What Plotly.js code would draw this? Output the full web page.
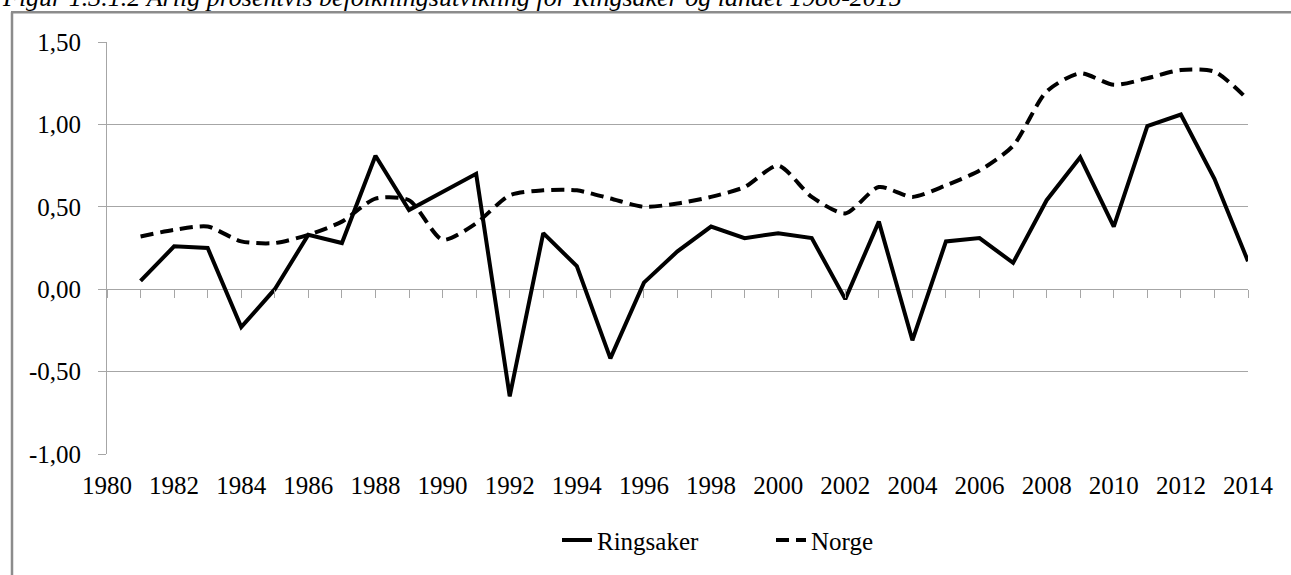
<!DOCTYPE html>
<html>
<head>
<meta charset="utf-8">
<script src="https://cdn.plot.ly/plotly-3.0.1.min.js"></script>
<style>
  html, body { margin: 0; padding: 0; background: #ffffff; }
  #chart { width: 1291px; height: 575px; }
</style>
</head>
<body>
<div id="chart"></div>
<script>
// ---- data ----
const years = [1981, 1982, 1983, 1984, 1985, 1986, 1987, 1988, 1989, 1990,
               1991, 1992, 1993, 1994, 1995, 1996, 1997, 1998, 1999, 2000,
               2001, 2002, 2003, 2004, 2005, 2006, 2007, 2008, 2009, 2010,
               2011, 2012, 2013, 2014];
const ringsaker = [0.05, 0.26, 0.25, -0.23, 0.00, 0.33, 0.28, 0.81, 0.48, 0.59,
                   0.70, -0.65, 0.34, 0.14, -0.42, 0.04, 0.23, 0.38, 0.31, 0.34,
                   0.31, -0.06, 0.41, -0.31, 0.29, 0.31, 0.16, 0.54, 0.80, 0.38,
                   0.99, 1.06, 0.67, 0.17];
const norge = [0.32, 0.36, 0.38, 0.29, 0.28, 0.33, 0.41, 0.55, 0.54, 0.30,
               0.40, 0.57, 0.60, 0.60, 0.55, 0.50, 0.52, 0.56, 0.62, 0.75,
               0.56, 0.46, 0.62, 0.56, 0.63, 0.72, 0.87, 1.20, 1.31, 1.24,
               1.28, 1.33, 1.32, 1.15];
const seriesNames = ['Ringsaker', 'Norge'];
const titleText = 'Figur 1.3.1.2 Årlig prosentvis befolkningsutvikling for Ringsaker og landet 1980-2015';

const xLabelVals = [1980, 1982, 1984, 1986, 1988, 1990, 1992, 1994, 1996, 1998,
                    2000, 2002, 2004, 2006, 2008, 2010, 2012, 2014];
const xLabelText = xLabelVals.map(String);
const xTickYears = [1980, 1981, 1982, 1983, 1984, 1985, 1986, 1987, 1988, 1989,
                    1990, 1991, 1992, 1993, 1994, 1995, 1996, 1997, 1998, 1999,
                    2000, 2001, 2002, 2003, 2004, 2005, 2006, 2007, 2008, 2009,
                    2010, 2011, 2012, 2013, 2014];
const yTickVals = [-1, -0.5, 0, 0.5, 1, 1.5];
const yTickText = ['-1,00', '-0,50', '0,00', '0,50', '1,00', '1,50'];

// ---- layout geometry ----
const W = 1291, H = 575;
const mL = 107, mR = 43, mT = 42, mB = 117;
const plotW = W - mL - mR, plotH = H - mT - mB;
const px2x = p => (p - mL) / plotW;
const py2y = p => (H - mB - p) / plotH;
const yMin = -1, yMax = 1.5;
const zeroPos = (0 - yMin) / (yMax - yMin);

const FONT = 'Liberation Serif';
const GRID = '#a6a6a6';

const traces = [
  {
    x: years, y: ringsaker, name: seriesNames[0], type: 'scatter', mode: 'lines',
    line: {color: '#000000', width: 4},
    xaxis: 'x', yaxis: 'y'
  },
  {
    x: years, y: norge, name: seriesNames[1], type: 'scatter', mode: 'lines',
    line: {color: '#000000', width: 4, dash: '13px,7px', shape: 'spline', smoothing: 0.7},
    xaxis: 'x', yaxis: 'y'
  }
];

const layout = {
  width: W, height: H,
  margin: {l: mL, r: mR, t: mT, b: mB, pad: 0},
  paper_bgcolor: '#ffffff', plot_bgcolor: '#ffffff',
  font: {family: FONT, size: 25, color: '#000000'},
  showlegend: true,
  legend: {
    orientation: 'h',
    x: px2x(557), xanchor: 'left',
    y: py2y(545), yanchor: 'middle',
    font: {family: FONT, size: 25, color: '#000000'},
    bgcolor: 'rgba(0,0,0,0)',
    itemwidth: 30,
    entrywidth: 169, entrywidthmode: 'pixels',
    tracegroupgap: 0
  },
  xaxis: {
    range: [1980, 2014],
    tickmode: 'array', tickvals: xLabelVals, ticktext: xLabelText,
    ticks: '', showline: false, showgrid: false, zeroline: false,
    ticklabelstandoff: 14,
    tickfont: {family: FONT, size: 25, color: '#000000'}
  },
  xaxis2: {
    overlaying: 'x', anchor: 'free', position: zeroPos, side: 'bottom',
    range: [1980, 2014],
    tickmode: 'array', tickvals: xTickYears,
    ticks: 'outside', ticklen: 8, tickwidth: 1, tickcolor: GRID,
    showticklabels: false, showline: false, showgrid: false, zeroline: false
  },
  yaxis: {
    range: [yMin, yMax],
    tickmode: 'array', tickvals: yTickVals, ticktext: yTickText,
    ticks: 'outside', ticklen: 8, tickwidth: 1, tickcolor: GRID,
    showline: true, linecolor: GRID, linewidth: 1,
    showgrid: true, gridcolor: GRID, gridwidth: 1,
    zeroline: false,
    ticklabelstandoff: 12,
    tickfont: {family: FONT, size: 25, color: '#000000'}
  },
  shapes: [
    {type: 'line', xref: 'paper', yref: 'paper',
     x0: px2x(12), x1: px2x(12), y0: py2y(590), y1: py2y(12),
     line: {color: '#8c8c8c', width: 2.5}},
    {type: 'line', xref: 'paper', yref: 'paper',
     x0: px2x(11), x1: px2x(1300), y0: py2y(12), y1: py2y(12),
     line: {color: '#8c8c8c', width: 2.5}}
  ],
  annotations: [
    {text: '<i>' + titleText + '</i>', xref: 'paper', yref: 'paper',
     x: px2x(0), xanchor: 'left', y: py2y(14), yanchor: 'bottom', yshift: 0,
     showarrow: false, font: {family: FONT, size: 26, color: '#000000'}}
  ]
};

// a trace on xaxis2 so the tick axis is always drawn (invisible)
traces.push({x: [1980], y: [0], xaxis: 'x2', yaxis: 'y', mode: 'markers',
             marker: {opacity: 0}, showlegend: false, hoverinfo: 'skip'});

Plotly.newPlot('chart', traces, layout, {displayModeBar: false, staticPlot: true});
</script>
</body>
</html>
